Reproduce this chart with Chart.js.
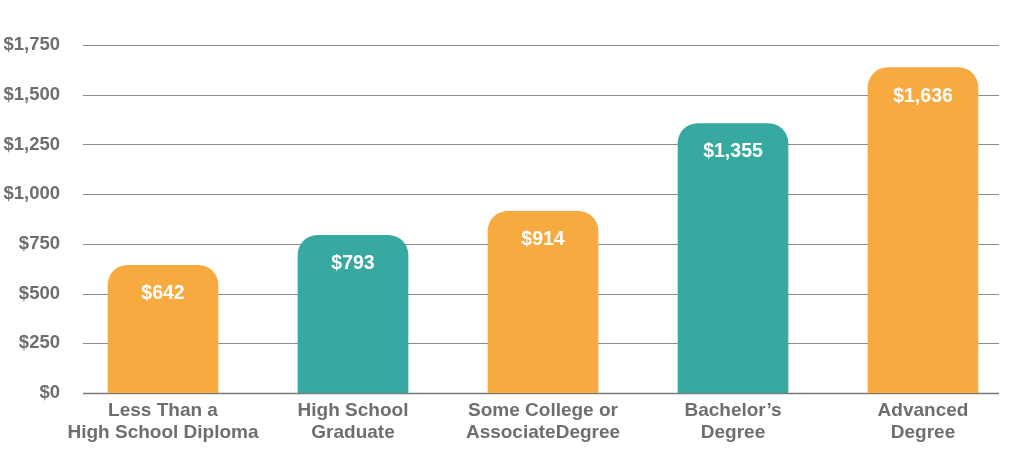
<!DOCTYPE html>
<html>
<head>
<meta charset="utf-8">
<script src="https://cdn.jsdelivr.net/npm/chart.js@4"></script>
<style>
  html, body { margin: 0; padding: 0; background: #fff; overflow: hidden; }
  #wrap { width: 1030px; height: 450px; }
</style>
</head>
<body>
<div id="wrap"><canvas id="earnChart" width="1030" height="450"></canvas></div>
<script>
// data block
const categories = [
  ["Less Than a", "High School Diploma"],
  ["High School", "Graduate"],
  ["Some College or", "AssociateDegree"],
  ["Bachelor\u2019s", "Degree"],
  ["Advanced", "Degree"],
];
const weeklyEarnings = [642, 793, 914, 1355, 1636];
const barColors = ["#F6AA3F", "#38A9A0", "#F6AA3F", "#38A9A0", "#F6AA3F"];
const yTicks = [0, 250, 500, 750, 1000, 1250, 1500, 1750];

const greyText = "#6D6E71";
const money = (v) => "$" + v.toLocaleString("en-US");

// gridlines only between x=83 and x=999
const gridPlugin = {
  id: "gridLines",
  beforeDatasetsDraw(chart) {
    const ctx = chart.ctx;
    const y = chart.scales.y;
    ctx.save();
    yTicks.forEach((t) => {
      const py = Math.round(y.getPixelForValue(t)) + 0.5;
      ctx.beginPath();
      ctx.strokeStyle = t === 0 ? "#7A7A7A" : "#8C8C8C";
      ctx.lineWidth = t === 0 ? 1.5 : 1;
      ctx.moveTo(83, py);
      ctx.lineTo(999, py);
      ctx.stroke();
    });
    ctx.restore();
  },
};

// white value labels inside bars
const valuePlugin = {
  id: "valueLabels",
  afterDatasetsDraw(chart) {
    const ctx = chart.ctx;
    const meta = chart.getDatasetMeta(0);
    ctx.save();
    ctx.fillStyle = "#FFFFFF";
    ctx.font = "bold 19.5px 'Liberation Sans', Arial, sans-serif";
    ctx.textAlign = "center";
    ctx.textBaseline = "middle";
    meta.data.forEach((bar, i) => {
      ctx.fillText(money(weeklyEarnings[i]), bar.x, bar.y + 28.5);
    });
    ctx.restore();
  },
};

const config = {
  type: "bar",
  data: {
    labels: categories,
    datasets: [
      {
        data: weeklyEarnings,
        backgroundColor: barColors,
        borderWidth: 0,
        borderRadius: 20,
        borderSkipped: "start",
        barThickness: 110,
      },
    ],
  },
  options: {
    responsive: false,
    animation: false,
    layout: { padding: { top: 45, right: 12, left: 0, bottom: 0 } },
    plugins: {
      legend: { display: false },
      tooltip: { enabled: false },
    },
    scales: {
      x: {
        grid: { display: false, drawTicks: false },
        border: { display: false },
        ticks: {
          color: greyText,
          padding: 7,
          maxRotation: 0,
          autoSkip: false,
          font: { family: "'Liberation Sans', Arial, sans-serif", size: 19, weight: "bold", lineHeight: 1.15 },
        },
        afterFit(scale) { scale.height = 57; },
      },
      y: {
        min: 0,
        max: 1750,
        grid: { display: false, drawTicks: false },
        border: { display: false },
        afterBuildTicks(scale) { scale.ticks = yTicks.map((v) => ({ value: v })); },
        ticks: {
          color: greyText,
          padding: 8,
          callback: (v) => money(v),
          font: { family: "'Liberation Sans', Arial, sans-serif", size: 18.5, weight: "bold" },
        },
        afterFit(scale) { scale.width = 68; },
      },
    },
  },
  plugins: [gridPlugin, valuePlugin],
};

const earnChart = new Chart(document.getElementById("earnChart"), config);
</script>
</body>
</html>
